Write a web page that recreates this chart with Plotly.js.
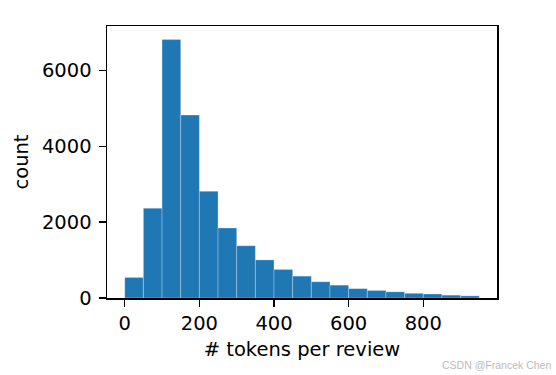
<!DOCTYPE html>
<html>
<head>
<meta charset="utf-8">
<script src="https://cdn.plot.ly/plotly-3.0.1.min.js"></script>
<style>body{margin:0;padding:0;background:#fff}</style>
</head>
<body>
<div id="chart" style="width:556px;height:375px"></div>
<script>
// Histogram bin edges (width 50) and counts
const binStarts = [0,50,100,150,200,250,300,350,400,450,500,550,600,650,700,750,800,850,900];
const binWidth = 50;
const counts = [542,2368,6816,4825,2816,1846,1379,1005,753,577,428,339,247,199,163,124,105,75,57];
const xTicks = [0,200,400,600,800];
const yTicks = [0,2000,4000,6000];

const font = {family: 'DejaVu Sans', size: 19.5, color: '#000'};

const trace = {
  type: 'bar',
  x: binStarts.map(s => s + binWidth/2),
  y: counts,
  width: binStarts.map(() => binWidth),
  marker: {color: '#1f77b4', line: {color: 'rgba(255,255,255,0.35)', width: 0.8}},
  hoverinfo: 'x+y'
};

const layout = {
  width: 556, height: 375,
  margin: {l: 107, r: 59, t: 26, b: 77},
  paper_bgcolor: '#fff', plot_bgcolor: '#fff',
  font: font,
  showlegend: false,
  bargap: 0,
  xaxis: {
    range: [-47.5, 997.5],
    tickvals: xTicks, ticktext: xTicks.map(String),
    ticks: 'outside', ticklen: 7, tickwidth: 1.5, tickcolor: '#000',
    showline: true, linecolor: '#000', linewidth: 1.5, mirror: true,
    showgrid: false, zeroline: false,
    tickfont: font,
    title: {text: '# tokens per review', font: font, standoff: 8}
  },
  yaxis: {
    range: [0, 7175],
    tickvals: yTicks, ticktext: yTicks.map(String),
    ticks: 'outside', ticklen: 7, tickwidth: 1.5, tickcolor: '#000',
    ticklabelstandoff: 3,
    showline: true, linecolor: '#000', linewidth: 1.5, mirror: true,
    showgrid: false, zeroline: false,
    tickfont: font,
    title: {text: 'count', font: font, standoff: 8}
  },
  annotations: [{
    text: 'CSDN @Francek Chen', xref: 'paper', yref: 'paper',
    x: 1.143, y: -0.245, xanchor: 'right', yanchor: 'middle', showarrow: false,
    font: {family: 'Liberation Sans', size: 10.5, color: '#bbb'}
  }]
};

Plotly.newPlot('chart', [trace], layout, {staticPlot: true, displayModeBar: false});
</script>
</body>
</html>
